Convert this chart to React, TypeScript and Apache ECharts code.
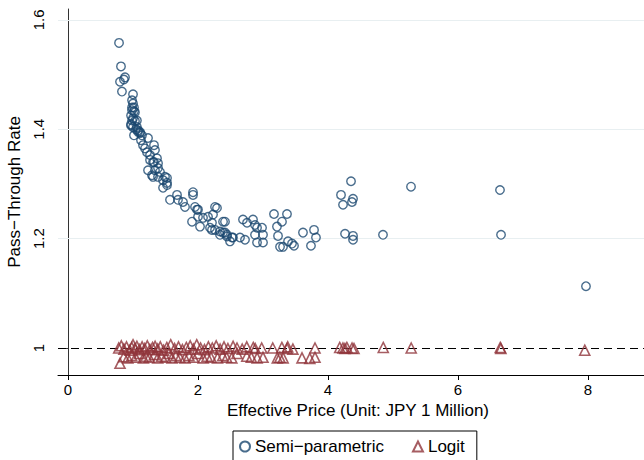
import React, { useEffect, useRef } from "react";
import * as echarts from "echarts";

// Semi-parametric estimates: [effective price, pass-through rate]
const semiParametric: number[][] = [
  [0.785, 1.558], [0.815, 1.515], [0.877, 1.495], [0.8, 1.487], [0.86, 1.491], [0.83, 1.469],
  [1.0, 1.464], [0.985, 1.453], [1.0, 1.447], [0.985, 1.44], [1.015, 1.433], [0.97, 1.425],
  [1.0, 1.42], [1.03, 1.415], [0.97, 1.409], [1.0, 1.404], [1.046, 1.4], [1.077, 1.395],
  [1.015, 1.389], [1.108, 1.393], [1.015, 1.44], [0.985, 1.435], [1.03, 1.431], [0.985, 1.416],
  [1.06, 1.416], [0.97, 1.407], [1.06, 1.404], [1.077, 1.398], [1.108, 1.395], [1.138, 1.389],
  [1.123, 1.38], [1.231, 1.384], [1.154, 1.371], [1.185, 1.365], [1.323, 1.371], [1.215, 1.358],
  [1.262, 1.353], [1.338, 1.362], [1.262, 1.344], [1.323, 1.34], [1.369, 1.347], [1.385, 1.338],
  [1.231, 1.325], [1.338, 1.325], [1.415, 1.322], [1.292, 1.316], [1.385, 1.313], [1.492, 1.313],
  [1.523, 1.311], [1.308, 1.34], [1.385, 1.329], [1.308, 1.313], [1.462, 1.307], [1.523, 1.298],
  [1.462, 1.293], [1.569, 1.271], [1.677, 1.28], [1.692, 1.271], [1.769, 1.267], [1.8, 1.258],
  [1.923, 1.285], [1.923, 1.28], [1.954, 1.258], [2.0, 1.253], [1.908, 1.231], [2.031, 1.222],
  [2.0, 1.24], [2.077, 1.238], [2.154, 1.24], [2.231, 1.244], [2.292, 1.256], [2.262, 1.258],
  [2.215, 1.229], [2.185, 1.22], [2.262, 1.216], [2.338, 1.213], [2.385, 1.231], [2.338, 1.207],
  [2.446, 1.204], [2.523, 1.202], [1.523, 1.302], [1.985, 1.253], [2.215, 1.216], [2.385, 1.211],
  [2.446, 1.207], [2.415, 1.231], [2.415, 1.211], [2.492, 1.195], [2.538, 1.202], [2.646, 1.202],
  [2.692, 1.235], [2.754, 1.229], [2.723, 1.198], [2.846, 1.235], [2.877, 1.225], [2.908, 1.22],
  [2.985, 1.22], [2.877, 1.207], [3.0, 1.207], [2.908, 1.193], [3.0, 1.193], [3.169, 1.245],
  [3.369, 1.245], [3.292, 1.231], [3.215, 1.222], [3.231, 1.205], [3.262, 1.185], [3.308, 1.185],
  [3.385, 1.195], [3.446, 1.191], [3.477, 1.187], [3.615, 1.211], [3.785, 1.216], [3.815, 1.202],
  [3.738, 1.187], [4.2, 1.28], [4.231, 1.262], [4.354, 1.305], [4.385, 1.273], [4.369, 1.267],
  [4.262, 1.209], [4.385, 1.205], [4.385, 1.198], [4.846, 1.207], [5.277, 1.295], [6.646, 1.289],
  [6.662, 1.207], [7.969, 1.113],
];

// Logit estimates: [effective price, pass-through rate]
const logit: number[][] = [
  [0.8, 0.972],
  [0.78, 1.0], [0.82, 1.004], [0.86, 0.998], [0.9, 1.002], [0.95, 0.996], [0.98, 1.001],
  [1.0, 1.006], [1.03, 0.999], [1.06, 1.003], [1.1, 0.997], [1.14, 1.002], [1.18, 0.999],
  [1.22, 1.004], [1.26, 0.997], [1.3, 1.001], [1.34, 1.003], [1.38, 0.998], [1.42, 1.002],
  [1.47, 0.996], [1.52, 1.001], [1.58, 1.006], [1.64, 0.999], [1.7, 1.002], [1.76, 0.997],
  [1.82, 1.001], [1.88, 1.004], [1.93, 0.998], [1.98, 1.006], [2.04, 1.0], [2.1, 0.997],
  [2.16, 1.002], [2.22, 1.0], [2.28, 1.004], [2.34, 0.998], [2.4, 1.002], [2.46, 0.999],
  [2.54, 1.003], [2.6, 1.0], [2.68, 0.998], [2.75, 1.002], [2.85, 1.001], [2.88, 0.999],
  [2.98, 1.0], [3.15, 1.0], [3.29, 1.001], [3.37, 0.999], [3.38, 1.002], [3.46, 0.998],
  [3.8, 1.0], [4.18, 1.001], [4.23, 1.0], [4.26, 0.999], [4.29, 1.001], [4.37, 1.0],
  [4.4, 0.999], [4.85, 1.001], [5.28, 1.0], [6.65, 1.001], [6.66, 0.999], [7.95, 0.996],
  [0.86, 0.984], [0.92, 0.982], [0.98, 0.986], [1.04, 0.983], [1.1, 0.99], [1.16, 0.982],
  [1.2, 0.985], [1.25, 0.983], [1.33, 0.988], [1.38, 0.982], [1.44, 0.985], [1.5, 0.983],
  [1.55, 0.99], [1.6, 0.982], [1.66, 0.986], [1.72, 0.983], [1.8, 0.982], [1.86, 0.986],
  [1.93, 0.983], [2.0, 0.99], [2.08, 0.982], [2.14, 0.985], [2.2, 0.983], [2.3, 0.982],
  [2.38, 0.986], [2.44, 0.983], [2.52, 0.982], [2.6, 0.99], [2.75, 0.985], [2.82, 0.983],
  [2.91, 0.982], [3.0, 0.983], [3.22, 0.982], [3.26, 0.983], [3.31, 0.982], [3.6, 0.982],
  [3.72, 0.981], [3.8, 0.983],
];

const xTicks = [0, 2, 4, 6, 8];
const yTicks = [1, 1.2, 1.4, 1.6];
const gridLevels = [1.2, 1.4, 1.6];
const referenceLevel = 1;

const NAVY = "#1a476f";
const MAROON = "#90353b";
const FONT = "Liberation Sans, Arial, Helvetica, sans-serif";

export default function App() {
  const ref = useRef<HTMLDivElement>(null);

  useEffect(() => {
    if (!ref.current) return;
    const chart = echarts.init(ref.current, null, { renderer: "svg" });
    chart.setOption({
      animation: false,
      backgroundColor: "#ffffff",
      textStyle: { fontFamily: FONT, color: "#000" },
      grid: { left: 58, right: 0, top: 9, bottom: 85, containLabel: false, outerBoundsMode: "none" },
      legend: {
        left: 233,
        top: 431,
        orient: "horizontal",
        padding: [7, 12, 7, 6],
        borderColor: "#000",
        borderWidth: 1,
        itemGap: 28,
        itemWidth: 10,
        itemHeight: 10,
        textStyle: { fontSize: 17, color: "#000", fontFamily: FONT },
        data: [
          { name: "Semi−parametric", icon: "circle" },
          { name: "Logit", icon: "triangle" },
        ],
      },
      xAxis: {
        type: "value",
        min: -0.154,
        max: 9.077,
        name: "Effective Price (Unit: JPY 1 Million)",
        nameLocation: "middle",
        nameGap: 25,
        nameTextStyle: { fontSize: 17, color: "#000", fontFamily: FONT },
        axisLine: { show: true, lineStyle: { color: "#000", width: 1 } },
        axisTick: { show: true, length: 5, customValues: xTicks, lineStyle: { color: "#000" } },
        axisLabel: { customValues: xTicks, fontSize: 15, color: "#000", margin: 7, fontFamily: FONT },
        splitLine: { show: false },
      },
      yAxis: {
        type: "value",
        min: 0.9506,
        max: 1.62,
        name: "Pass−Through Rate",
        nameLocation: "middle",
        nameRotate: 90,
        nameGap: 25,
        nameTextStyle: { fontSize: 17, color: "#000", fontFamily: FONT },
        axisLine: { show: true, lineStyle: { color: "#333", width: 1 } },
        axisTick: { show: true, length: 5, customValues: yTicks, lineStyle: { color: "#333" } },
        axisLabel: {
          customValues: yTicks,
          rotate: 90,
          fontSize: 15,
          color: "#000",
          margin: 12,
          fontFamily: FONT,
          formatter: (v: number) => String(Math.round(v * 10) / 10),
        },
        splitLine: { show: false },
      },
      series: [
        {
          name: "grid",
          type: "scatter",
          data: [],
          silent: true,
          z: 1,
          markLine: {
            silent: true,
            symbol: "none",
            z: 1,
            label: { show: false },
            lineStyle: { color: "#e8eff1", type: "solid", width: 1 },
            data: gridLevels.map((v) => ({ yAxis: v })),
          },
        },
        {
          name: "Semi−parametric",
          type: "scatter",
          symbol: "circle",
          symbolSize: 8.5,
          z: 3,
          itemStyle: { color: "rgba(255,255,255,0)", borderColor: NAVY, borderWidth: 1.4 },
          data: semiParametric,
        },
        {
          name: "Logit",
          type: "scatter",
          symbol: "triangle",
          symbolSize: 10,
          z: 3,
          itemStyle: { color: "rgba(255,255,255,0)", borderColor: MAROON, borderWidth: 1.6 },
          data: logit,
          markLine: {
            silent: true,
            symbol: "none",
            z: 2,
            label: { show: false },
            lineStyle: { color: "#000", type: [8, 5], width: 1.2 },
            data: [{ yAxis: referenceLevel }],
          },
        },
      ],
    });
    return () => chart.dispose();
  }, []);

  return (
    <div
      style={{
        position: "fixed",
        left: 0,
        top: 0,
        width: 644,
        height: 460,
        overflow: "hidden",
        background: "#fff",
      }}
    >
      <div ref={ref} style={{ width: 658, height: 460 }} />
    </div>
  );
}
